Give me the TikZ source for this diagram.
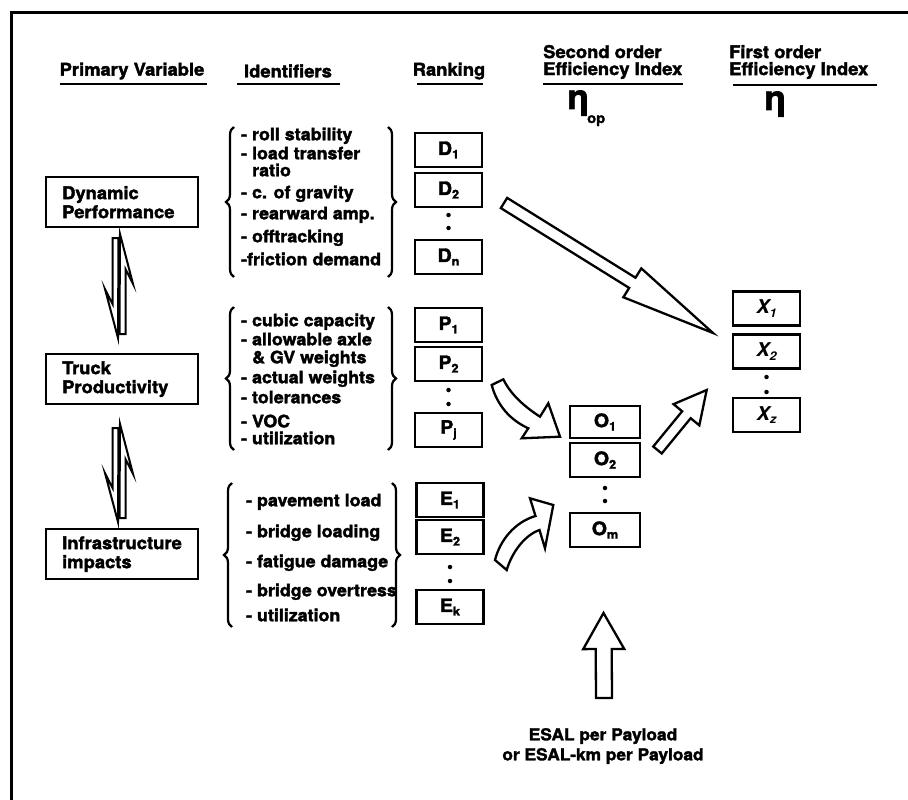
\documentclass[tikz,border=0pt]{standalone}
\usepackage{fontspec}
\setmainfont{TeX Gyre Heros}[FakeStretch=1.05, BoldFeatures={FakeBold=2}]
\usetikzlibrary{calc,decorations.pathreplacing}
\newcommand\sbs[1]{\raisebox{-3.5pt}{\fontsize{12}{12}\selectfont #1}}
\newcommand\hollowarrow[5]{%
  \coordinate (hb) at ($(#2)!#5!(#1)$);
  \draw[hollow] ($(#1)!#3!90:(#2)$) -- ($(hb)!#3!90:(#2)$) -- ($(hb)!#4!90:(#2)$) -- (#2)
    -- ($(hb)!#4!-90:(#2)$) -- ($(hb)!#3!-90:(#2)$) -- ($(#1)!#3!-90:(#2)$) -- cycle;}
\tikzset{
  hdr/.style={font=\bfseries\fontsize{17.5}{18}\selectfont, inner sep=0pt},
  uline/.style={line width=2.8pt},
  pvbox/.style={draw, line width=2.4pt, anchor=north west, minimum height=50pt,
    text width=120pt, inner xsep=16pt, inner ysep=0pt, align=left,
    font=\bfseries\fontsize{17.5}{19}\selectfont},
  idl/.style={anchor=west, inner sep=0pt, text height=12pt, text depth=3.5pt,
    font=\bfseries\fontsize{17}{17}\selectfont},
  rbox/.style={draw, line width=2.6pt, minimum width=67pt, minimum height=34pt,
    inner sep=0pt, font=\bfseries\fontsize{18.5}{18.5}\selectfont},
  xbox/.style={rbox, font=\bfseries\itshape\fontsize{19}{19}\selectfont},
  dotn/.style={circle, fill=black, inner sep=0pt, minimum size=4.5pt},
  brc/.style={decorate, decoration={brace, amplitude=8pt}, line width=2.2pt},
  hollow/.style={draw, fill=white, line width=2.3pt, line join=miter},
  harp/.style={draw, fill=white, line width=2pt, line join=miter}
}
\begin{document}
\begin{tikzpicture}[x=1pt,y=-1pt]
\useasboundingbox (0,0) rectangle (908,800);
\fill[white] (0,0) rectangle (908,800);
\draw[line width=3pt] (11.5,800) -- (11.5,12.5) -- (908,12.5);

% headers
\node[hdr] (hpv) at (132,71) {Primary Variable};
\draw[uline] (60,84) -- (207,84);
\node[hdr] (hid) at (288,71) {Identifiers};
\draw[uline] (237,84) -- (340,84);
\node[hdr] (hrk) at (449,71) {Ranking};
\draw[uline] (417,84) -- (483,84);
\node[hdr, anchor=west, align=left, font=\bfseries\fontsize{17.5}{17}\selectfont] (hso) at (543,62) {Second order\\Efficiency Index};
\draw[uline] (543,84) -- (683,84);
\node[hdr, anchor=west, align=left, font=\bfseries\fontsize{17.5}{17}\selectfont] (hfo) at (729,62) {First order\\Efficiency Index};
\draw[uline] (733,85) -- (877,85);
\node[inner sep=0pt, anchor=base, font=\bfseries\fontsize{34}{34}\selectfont] (eta2) at (578,109) {η};
\node[inner sep=0pt, anchor=base west, font=\bfseries\fontsize{14}{14}\selectfont] (op) at (587,123) {op};
\node[inner sep=0pt, anchor=base, font=\bfseries\fontsize{34}{34}\selectfont] (eta1) at (775,110) {η};

% primary variables
\node[pvbox] (dp) at (45,176) {Dynamic\\Performance};
\node[pvbox] (tp) at (45,353) {Truck\\Productivity};
\node[pvbox] (ii) at (45,528) {Infrastructure\\impacts};

% harpoons
\draw[harp] (120,234) -- (133,284) -- (125.5,269) -- (125.5,334) -- (119.5,334) -- cycle;
\draw[harp] (118,338) -- (105,289) -- (112.5,304) -- (112.5,238) -- (118.5,238) -- cycle;
\draw[harp] (120,424) -- (133,474) -- (125.5,459) -- (125.5,518) -- (119.5,518) -- cycle;
\draw[harp] (118,522) -- (105,473) -- (112.5,488) -- (112.5,428) -- (118.5,428) -- cycle;

% identifiers group 1
\node[idl] (i11) at (241,136) {- roll stability};
\node[idl] (i12) at (241,155) {- load transfer};
\node[idl] (i13) at (252,172) {ratio};
\node[idl] (i14) at (241,194) {- c. of gravity};
\node[idl] (i15) at (241,215) {- rearward amp.};
\node[idl] (i16) at (241,238) {- offtracking};
\node[idl] (i17) at (241,261) {-friction demand};
\draw[brc] (234,277) -- (234,127);
\draw[brc] (388,127) -- (388,277);
% group 2
\node[idl] (i21) at (241,322) {- cubic capacity};
\node[idl] (i22) at (241,341) {- allowable axle};
\node[idl] (i23) at (252,359) {\& GV weights};
\node[idl] (i24) at (241,379) {- actual weights};
\node[idl] (i25) at (241,399) {- tolerances};
\node[idl] (i26) at (241,423) {- VOC};
\node[idl] (i27) at (241,440) {- utilization};
\draw[brc] (234,450) -- (234,307);
\draw[brc] (388,307) -- (388,450);
% group 3
\node[idl] (i31) at (246,502) {- pavement load};
\node[idl] (i32) at (246,533) {- bridge loading};
\node[idl] (i33) at (246,563) {- fatigue damage};
\node[idl] (i34) at (246,592) {- bridge overtress};
\node[idl] (i35) at (246,617) {- utilization};
\draw[brc] (232,627) -- (232,483);
\draw[brc] (392,483) -- (392,627);

% ranking boxes
\node[rbox] (d1) at (448.5,150) {D\sbs{1}};
\node[rbox] (d2) at (448.5,190) {D\sbs{2}};
\node[dotn] (dd1) at (448.5,215) {};
\node[dotn] (dd2) at (448.5,228) {};
\node[rbox] (dn) at (448.5,257) {D\sbs{n}};
\node[rbox] (p1) at (448.5,325) {P\sbs{1}};
\node[rbox] (p2) at (448.5,364) {P\sbs{2}};
\node[dotn] (pd1) at (448.5,390) {};
\node[dotn] (pd2) at (448.5,404) {};
\node[rbox] (pj) at (448.5,430) {P\sbs{j}};
\node[rbox] (e1) at (450,500) {E\sbs{1}};
\node[rbox] (e2) at (450,537) {E\sbs{2}};
\node[dotn] (ed1) at (450,567) {};
\node[dotn] (ed2) at (450,581) {};
\node[rbox] (ek) at (450,607) {E\sbs{k}};

% second order boxes
\node[rbox, minimum width=70pt, minimum height=32pt] (o1) at (605,422) {O\sbs{1}};
\node[rbox, minimum width=70pt, minimum height=34pt] (o2) at (605,460) {O\sbs{2}};
\node[dotn] (od1) at (605,488) {};
\node[dotn] (od2) at (605,501) {};
\node[rbox, minimum width=70pt, minimum height=34pt] (om) at (605,530) {O\sbs{m}};

% first order boxes
\node[xbox] (x1) at (766.5,308.5) {X\sbs{1}};
\node[xbox] (x2) at (766.5,351.5) {X\sbs{2}};
\node[dotn] (xd1) at (766.5,377) {};
\node[dotn] (xd2) at (766.5,392) {};
\node[xbox] (xz) at (766.5,415) {X\sbs{z}};

% big arrows
\coordinate (a1t) at (504,203);
\coordinate (a1h) at (713,333);
\hollowarrow{a1t}{a1h}{6pt}{17pt}{95pt}
\coordinate (a3t) at (657.5,450);
\coordinate (a3h) at (706.7,390);
\hollowarrow{a3t}{a3h}{5.5pt}{16.7pt}{32pt}
\coordinate (a5t) at (604,698);
\coordinate (a5h) at (603.5,613);
\hollowarrow{a5t}{a5h}{8pt}{20.5pt}{36pt}
% curved arrows
\draw[hollow] (491.7,385) .. controls (497,405) and (510,420) .. (528.3,428.3)
  -- (521.7,438.3) -- (560,436.7) -- (548.3,403.3) -- (540,416.7)
  .. controls (522,405) and (510,393) .. (503.3,379.3) -- cycle;
\draw[hollow] (495,560) .. controls (500,540) and (515,522) .. (535.5,516)
  -- (530,498.3) -- (553.3,505) -- (545,548.3) -- (539.5,530)
  .. controls (525,535) and (512,552) .. (506.7,570) -- cycle;

\node[align=center, inner sep=0pt, font=\bfseries\fontsize{16.5}{20}\selectfont] (esal) at (603,746) {ESAL per Payload\\or ESAL-km per Payload};
\end{tikzpicture}
\end{document}
